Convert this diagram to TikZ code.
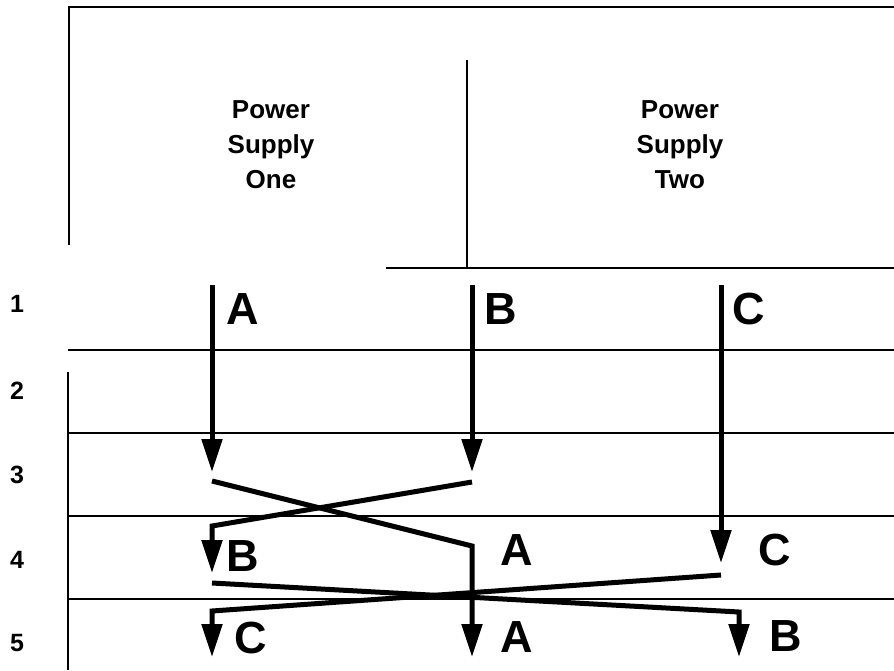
\documentclass[tikz,border=0pt]{standalone}
\usepackage{fontspec}
\setmainfont{Liberation Sans}
\usetikzlibrary{arrows.meta}
\tikzset{
  every picture/.style={x=1pt, y=-1pt},
  frame/.style={line width=1.6pt},
  grid/.style={line width=1.2pt},
  wire/.style={line width=5pt, -{Triangle[length=33pt, width=20pt]}},
  link/.style={line width=5pt},
  supply/.style={align=center, inner sep=0pt, font=\fontsize{26}{35}\selectfont\bfseries},
  rownum/.style={inner sep=0pt, font=\fontsize{25}{25}\selectfont\bfseries},
  phase/.style={inner sep=0pt, font=\fontsize{45}{45}\selectfont\bfseries},
}

\begin{document}
\begin{tikzpicture}
  \useasboundingbox (0,0) rectangle (894,670);
  % supply boxes
  \draw[frame] (69,245) -- (69,7) -- (894,7);
  \draw[frame] (467,60) -- (467,268);
  \draw[frame] (386,268) -- (894,268);
  \node[supply] (ps1) at (271,145) {Power\\Supply\\One};
  \node[supply] (ps2) at (680,145) {Power\\Supply\\Two};
  % rows
  \draw[grid] (68,372) -- (68,670);
  \foreach \y in {350,433,516,599}
    \draw[grid] (68,\y) -- (894,\y);
  \foreach \n/\y in {1/304,2/391,3/475,4/560,5/643}
    \node[rownum] (row\n) at (17,\y) {\n};
  % feeds from the supplies
  \coordinate (a1) at (212,285);
  \coordinate (b1) at (472,285);
  \coordinate (c1) at (721,285);
  \coordinate (a3) at (212,472);
  \coordinate (b3) at (472,472);
  \coordinate (c4) at (721,563);
  \draw[wire] (a1) -- (a3);
  \draw[wire] (b1) -- (b3);
  \draw[wire] (c1) -- (c4);
  % first swap
  \coordinate (a3s) at (212,481);
  \coordinate (a4k) at (472,546);
  \coordinate (a5) at (472,657);
  \coordinate (b3s) at (472,482);
  \coordinate (b4k) at (212,526);
  \coordinate (b4) at (212,573);
  \draw[wire] (a3s) -- (a4k) -- (a5);
  \draw[wire] (b3s) -- (b4k) -- (b4);
  % second swap
  \coordinate (b4s) at (212,583);
  \coordinate (b5k) at (739,612);
  \coordinate (b5) at (739,657);
  \coordinate (c4s) at (721,575);
  \coordinate (c5k) at (212,611);
  \coordinate (c5) at (212,657);
  \draw[wire] (b4s) -- (b5k) -- (b5);
  \draw[wire] (c4s) -- (c5k) -- (c5);
  % phase labels
  \node[phase] (la1) at (243,309) {A};
  \node[phase] (lb1) at (501,309) {B};
  \node[phase] (lc1) at (749,309) {C};
  \node[phase] (lb4) at (243,556) {B};
  \node[phase] (la4) at (517,550) {A};
  \node[phase] (lc4) at (775,550) {C};
  \node[phase] (lc5) at (251,638) {C};
  \node[phase] (la5) at (517,637) {A};
  \node[phase] (lb5) at (786,636) {B};
\end{tikzpicture}
\end{document}
